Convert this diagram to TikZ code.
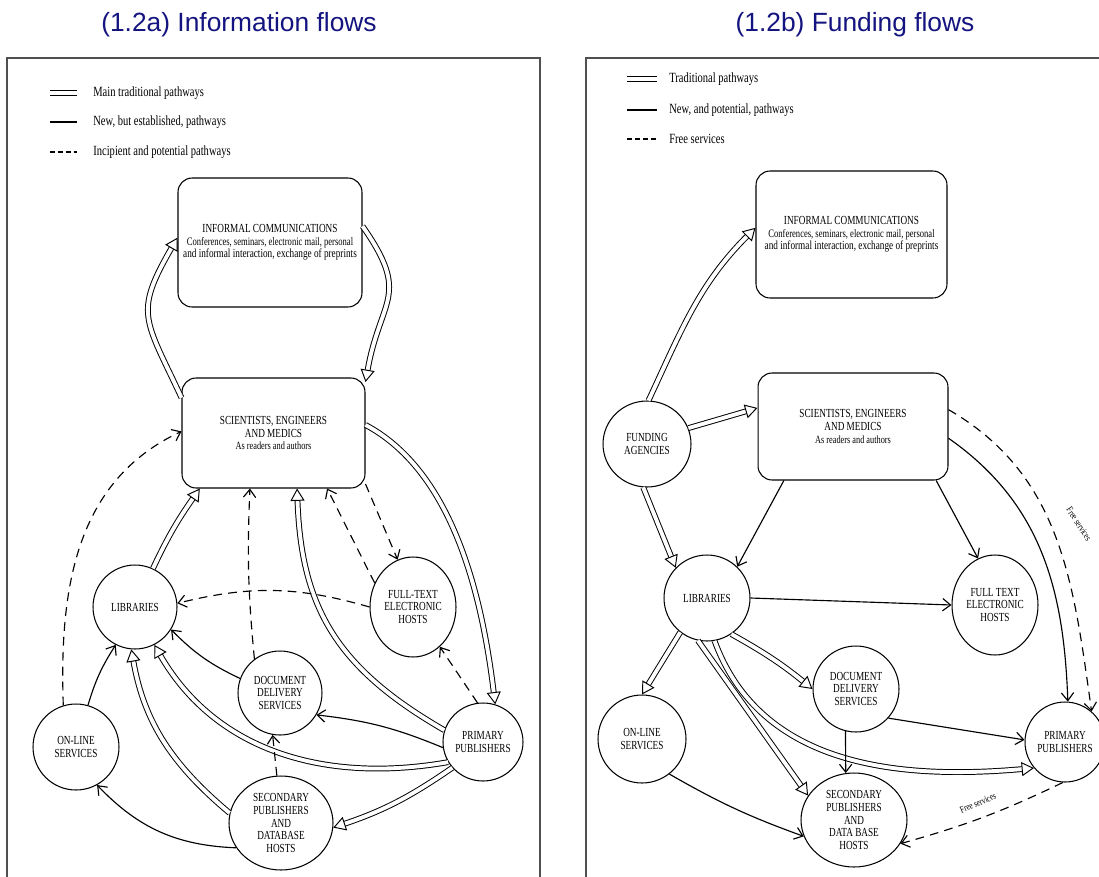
\documentclass[tikz,border=0pt]{standalone}
\usepackage{fontspec}
\setmainfont{Liberation Serif}
\newfontfamily\scanfont[FakeStretch=0.75]{Liberation Serif}
\newfontfamily\headfont{Liberation Sans}
\usepackage{xcolor}
\usepackage{tikz}
\usetikzlibrary{shapes.geometric}
\usetikzlibrary{arrows.meta}
\definecolor{headblue}{RGB}{20,20,128}
\definecolor{framegray}{RGB}{80,80,80}

\begin{document}
\begin{tikzpicture}[
	x=0.02cm, y=0.02cm,
	font=\scanfont\fontsize{7}{7.2}\selectfont
]
\tikzset{
    mybox/.style = {rectangle, rounded corners=8pt, draw=black, line width=.6pt, align=center, inner sep=0pt},
    myoval/.style = {ellipse, draw=black, line width=.6pt, align=center, inner sep=0pt},
    mykey/.style = {anchor=west, inner sep=0pt, font=\scanfont\fontsize{8}{8}\selectfont},
    mytitle/.style = {anchor=base, inner sep=0pt, text=headblue, font=\headfont\fontsize{15}{16}\selectfont},
    mysmall/.style = {inner sep=0pt, font=\scanfont\fontsize{5.5}{6}\selectfont},
    trad/.style = {double, double distance=2.2pt, line width=.55pt, -{Triangle[open,length=7pt,width=8pt]}},
    newp/.style = {line width=.65pt, -{Straight Barb[length=4.5pt,width=7pt]}},
    incip/.style = {newp, dash pattern=on 5pt off 3.5pt}
}
\useasboundingbox (0,0) rectangle (1099,-876);
\draw[framegray, line width=1.1pt] (7,-880) -- (7,-58) -- (540,-58) -- (540,-880);
\draw[framegray, line width=1.1pt] (586,-880) -- (586,-58) -- (1110,-58);

\node[mytitle] (atitle) at (239,-31.7) {(1.2a) Information flows};
\node[mytitle] (btitle) at (855,-31.7) {(1.2b) Funding flows};

% (1.2a) key
\draw[double, double distance=2.2pt, line width=.6pt] (50,-93) -- (77,-93);
\draw[line width=1.1pt] (50,-122) -- (77,-122);
\draw[line width=1.1pt, dash pattern=on 3pt off 1.5pt] (50,-152) -- (77,-152);
\node[mykey] (akey1) at (93,-93) {Main traditional pathways};
\node[mykey] (akey2) at (93,-122) {New, but established, pathways};
\node[mykey] (akey3) at (93,-152) {Incipient and potential pathways};

% (1.2a) nodes
\node[mybox, minimum width=3.68cm, minimum height=2.58cm] (ainf) at (270,-242.5)
  {INFORMAL COMMUNICATIONS\\ \fontsize{6.5}{7.7}\selectfont Conferences, seminars, electronic mail, personal\\ and informal interaction, exchange of preprints};
\node[mybox, minimum width=3.66cm, minimum height=2.2cm] (asci) at (273.5,-433)
  {SCIENTISTS, ENGINEERS\\AND MEDICS\\ \fontsize{6.3}{7.7}\selectfont As readers and authors};
\node[myoval, minimum width=1.68cm, minimum height=1.68cm] (alib) at (135,-607) {LIBRARIES};
\node[myoval, minimum width=1.72cm, minimum height=2.0cm] (afull) at (413,-607) {FULL-TEXT\\ELECTRONIC\\HOSTS};
\node[myoval, minimum width=1.68cm, minimum height=1.68cm] (adoc) at (280,-693) {DOCUMENT\\DELIVERY\\SERVICES};
\node[myoval, minimum width=1.72cm, minimum height=1.72cm] (aonl) at (76,-747) {ON-LINE\\SERVICES};
\node[myoval, minimum width=1.6cm, minimum height=1.56cm] (aprim) at (483,-742) {PRIMARY\\PUBLISHERS};
\node[myoval, minimum width=2.08cm, minimum height=1.88cm] (asec) at (281,-823) {SECONDARY\\PUBLISHERS\\AND\\DATABASE\\HOSTS};

% (1.2a) flows
\draw[trad] (asci.159) to[out=115, in=240, looseness=1.4] (ainf.177);
\draw[trad] (ainf.10) to[out=-55, in=80, looseness=1.4] (asci.29);
\draw[trad] (asci.5) to[out=-28, in=97, looseness=0.85] (aprim.72);
\draw[trad] (aprim.163) to[out=150, in=-88, looseness=1.1] (asci.-67);
\draw[trad] (alib.65) to[out=65, in=235] (asci.-143);
\draw[trad] (aprim.210) to[out=190, in=-60] (alib.-63);
\draw[trad] (asec.169) to[out=140, in=-80] (alib.-95);
\draw[trad] (aprim.-140) to[bend left=8] (asec.-5);
\draw[newp] (aprim.188) to[bend right=8] (adoc.-31);
\draw[newp] (adoc.160) to[bend left=10] (alib.-32);
\draw[newp] (aonl.74) to[bend left=8] (alib.-117);
\draw[newp] (asec.209) to[bend left=22] (aonl.-61);
\draw[incip] (asec.95) -- (adoc.-100);
\draw[incip] (adoc.127) to[bend left=4] (asci.-113);
\draw[incip] (afull.180) to[bend right=15] (alib.5);
\draw[incip] (afull.148) -- (asci.-46);
\draw[incip] (asci.-29) -- (afull.108);
\draw[incip] (aprim.98) -- (afull.-56);
\draw[incip] (aonl.107) to[out=92, in=205] (asci.179);

% (1.2b) key
\draw[double, double distance=2.2pt, line width=.6pt] (627,-79) -- (657,-79);
\draw[line width=1.1pt] (627,-110) -- (657,-110);
\draw[line width=1.1pt, dash pattern=on 3pt off 1.5pt] (627,-139) -- (657,-139);
\node[mykey] (bkey1) at (669,-79) {Traditional pathways};
\node[mykey] (bkey2) at (669,-110) {New, and potential, pathways};
\node[mykey] (bkey3) at (669,-139) {Free services};

% (1.2b) nodes
\node[mybox, minimum width=3.82cm, minimum height=2.54cm] (binf) at (851.5,-234.5)
  {INFORMAL COMMUNICATIONS\\ \fontsize{6.5}{7.7}\selectfont Conferences, seminars, electronic mail, personal\\ and informal interaction, exchange of preprints};
\node[mybox, minimum width=3.8cm, minimum height=2.14cm] (bsci) at (853,-426.5)
  {SCIENTISTS, ENGINEERS\\AND MEDICS\\ \fontsize{6.3}{7.7}\selectfont As readers and authors};
\node[myoval, minimum width=1.76cm, minimum height=1.72cm] (bfund) at (647,-444) {FUNDING\\AGENCIES};
\node[myoval, minimum width=1.72cm, minimum height=1.72cm] (blib) at (707,-598) {LIBRARIES};
\node[myoval, minimum width=1.72cm, minimum height=2.0cm] (bfull) at (995,-605) {FULL TEXT\\ELECTRONIC\\HOSTS};
\node[myoval, minimum width=1.72cm, minimum height=1.72cm] (bdoc) at (856,-689) {DOCUMENT\\DELIVERY\\SERVICES};
\node[myoval, minimum width=1.76cm, minimum height=1.76cm] (bonl) at (642,-739) {ON-LINE\\SERVICES};
\node[myoval, minimum width=1.6cm, minimum height=1.6cm] (bprim) at (1065,-742) {PRIMARY\\PUBLISHERS};
\node[myoval, minimum width=2.12cm, minimum height=1.88cm] (bsec) at (854,-820) {SECONDARY\\PUBLISHERS\\AND\\DATA BASE\\HOSTS};

% (1.2b) flows
\draw[trad] (bfund.88) to[out=65, in=225] (binf.176);
\draw[trad] (bfund.21) -- (bsci.169);
\draw[trad] (bfund.-95) -- (blib.136);
\draw[trad] (blib.-128) -- (bonl.90);
\draw[trad] (blib.-56) to[bend left=5] (bdoc.180);
\draw[trad] (blib.-102) -- (bsec.152);
\draw[trad] (blib.-80) to[out=-70, in=185] (bprim.-140);
\draw[newp] (bsci.-142) -- (blib.46);
\draw[newp] (bsci.-33) -- (bfull.110);
\draw[newp] (bsci.-7) to[out=-35, in=92] (bprim.86);
\draw[newp] (blib.0) -- (bfull.180);
\draw[newp] (bdoc.-42) -- (bprim.177);
\draw[newp] (bdoc.-104) -- (bsec.100);
\draw[newp] (bonl.-52) to[bend right=5] (bsec.-162);
\draw[incip] (bsci.10) to[out=-30, in=98] (bprim.49);
\draw[incip] (bprim.-93) to[bend left=5] (bsec.-27);
\node[mysmall, rotate=-57] (bfree1) at (1079,-524) {Free services};
\node[mysmall, rotate=23] (bfree2) at (978,-803) {Free services};
\end{tikzpicture}
\end{document}
